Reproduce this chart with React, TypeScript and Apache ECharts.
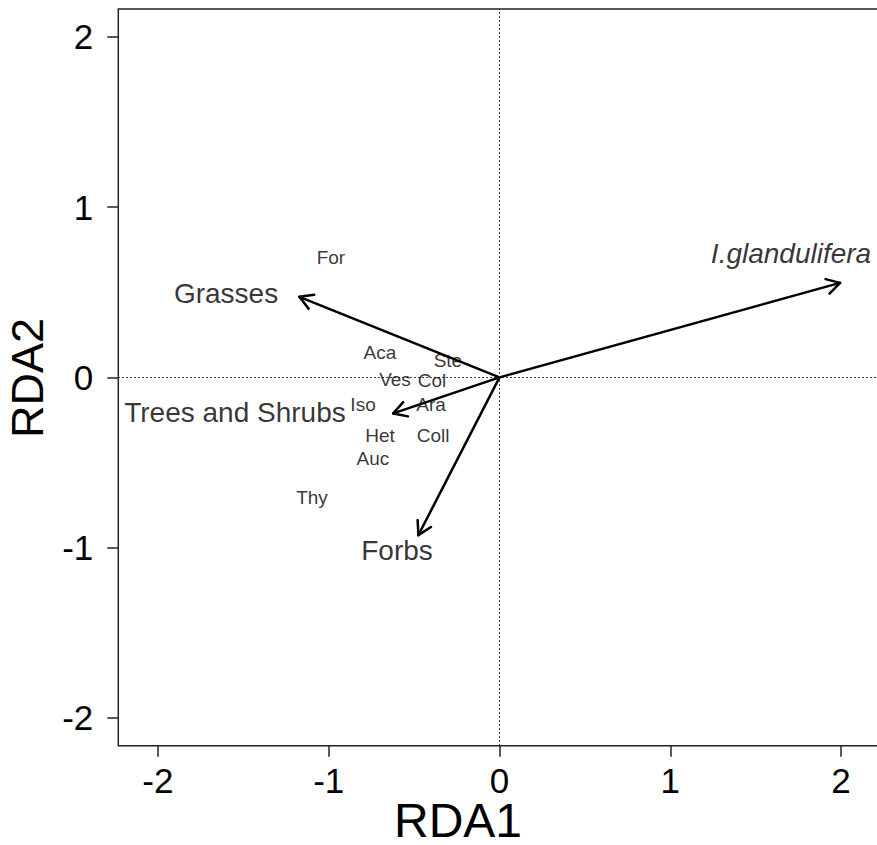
import React, { useEffect, useRef } from "react";
import * as echarts from "echarts";

const FONT = "'Liberation Sans', Arial, Helvetica, sans-serif";

// Axis ranges and ticks
const xRange = [-2.232, 2.232];
const yRange = [-2.164, 2.164];
const tickValues = [-2, -1, 0, 1, 2];

// Biplot arrows (explanatory variables)
const arrowNames = ["I.glandulifera", "Grasses", "Trees and Shrubs", "Forbs"];
const arrowX = [1.994, -1.172, -0.622, -0.475];
const arrowY = [0.555, 0.473, -0.212, -0.927];
const arrowLabelX = [1.707, -1.601, -1.549, -0.6];
const arrowLabelY = [0.725, 0.495, -0.205, -1.016];

// Species scores
const speciesNames = ["For", "Aca", "Ste", "Ves", "Col", "Iso", "Ara", "Het", "Coll", "Auc", "Thy"];
const speciesX = [-0.987, -0.7, -0.302, -0.612, -0.395, -0.799, -0.401, -0.7, -0.389, -0.741, -1.098];
const speciesY = [0.706, 0.148, 0.101, -0.011, -0.016, -0.157, -0.157, -0.339, -0.339, -0.475, -0.704];

export default function App() {
  const ref = useRef<HTMLDivElement>(null);

  useEffect(() => {
    if (!ref.current) return;
    const chart = echarts.init(ref.current, null, { renderer: "svg" });

    const arrowData = arrowX.map((x, i) => [x, arrowY[i]]);
    const arrowLabelData = arrowNames.map((n, i) => ({
      name: n,
      value: [arrowLabelX[i], arrowLabelY[i]],
      label: i === 0 ? { fontStyle: "italic" } : {},
    }));
    const speciesData = speciesNames.map((n, i) => ({
      name: n,
      value: [speciesX[i], speciesY[i]],
    }));

    const option: any = {
      animation: false,
      backgroundColor: "#ffffff",
      grid: {
        left: 118.3,
        top: 9,
        right: 3.3,
        bottom: 99.3,
        show: true,
        borderColor: "#222",
        borderWidth: 1.5,
        backgroundColor: "transparent",
        containLabel: false,
        outerBoundsMode: "none",
      },
      xAxis: {
        type: "value",
        min: xRange[0],
        max: xRange[1],
        splitLine: { show: false },
        axisLine: { show: false, onZero: false },
        axisTick: {
          show: true,
          customValues: tickValues,
          length: 11,
          lineStyle: { color: "#222", width: 1.5 },
        },
        axisLabel: {
          customValues: tickValues,
          fontSize: 35,
          lineHeight: 32,
          color: "#000",
          fontFamily: FONT,
          margin: 19,
        },
      },
      yAxis: {
        type: "value",
        min: yRange[0],
        max: yRange[1],
        splitLine: { show: false },
        axisLine: { show: false, onZero: false },
        axisTick: {
          show: true,
          customValues: tickValues,
          length: 11,
          lineStyle: { color: "#222", width: 1.5 },
        },
        axisLabel: {
          customValues: tickValues,
          fontSize: 35,
          color: "#000",
          fontFamily: FONT,
          margin: 25,
        },
      },
      graphic: [
        {
          type: "text",
          x: 458,
          y: 820,
          style: {
            text: "RDA1",
            font: `48px ${FONT}`,
            lineHeight: 38,
            fill: "#000",
            align: "center",
            verticalAlign: "middle",
          },
        },
        {
          type: "text",
          x: 27,
          y: 378,
          rotation: Math.PI / 2,
          style: {
            text: "RDA2",
            font: `45px ${FONT}`,
            fill: "#000",
            align: "center",
            verticalAlign: "middle",
          },
        },
      ],
      series: [
        {
          type: "line",
          data: [],
          silent: true,
          markLine: {
            silent: true,
            symbol: "none",
            label: { show: false },
            lineStyle: { color: "#000", width: 1, type: [1.5, 2.5] },
            data: [{ xAxis: 0 }, { yAxis: 0 }],
          },
        },
        {
          type: "custom",
          data: arrowData,
          silent: true,
          renderItem: (params: any, api: any) => {
            const p0 = api.coord([0, 0]);
            const p1 = api.coord([api.value(0), api.value(1)]);
            const ang = Math.atan2(p1[1] - p0[1], p1[0] - p0[0]);
            const L = 15;
            const a = Math.PI / 6;
            const h1 = [p1[0] - L * Math.cos(ang - a), p1[1] - L * Math.sin(ang - a)];
            const h2 = [p1[0] - L * Math.cos(ang + a), p1[1] - L * Math.sin(ang + a)];
            const style = { stroke: "#000", lineWidth: 2.5, fill: "none", lineCap: "round", lineJoin: "round" };
            return {
              type: "group",
              children: [
                { type: "line", shape: { x1: p0[0], y1: p0[1], x2: p1[0], y2: p1[1] }, style },
                { type: "polyline", shape: { points: [h1, p1, h2] }, style },
              ],
            };
          },
        },
        {
          type: "scatter",
          data: speciesData,
          symbolSize: 0,
          silent: true,
          label: {
            show: true,
            position: "inside",
            formatter: "{b}",
            fontSize: 19,
            color: "#000",
            fontFamily: FONT,
          },
        },
        {
          type: "scatter",
          data: arrowLabelData,
          symbolSize: 0,
          silent: true,
          label: {
            show: true,
            position: "inside",
            formatter: "{b}",
            fontSize: 28,
            color: "#000",
            fontFamily: FONT,
          },
        },
      ],
    };

    chart.setOption(option);
    return () => chart.dispose();
  }, []);

  return (
    <div
      style={{
        position: "fixed",
        left: 0,
        top: 0,
        width: 877,
        height: 845,
        overflow: "hidden",
        background: "#fff",
      }}
    >
      <div ref={ref} style={{ width: 884, height: 845 }} />
    </div>
  );
}
